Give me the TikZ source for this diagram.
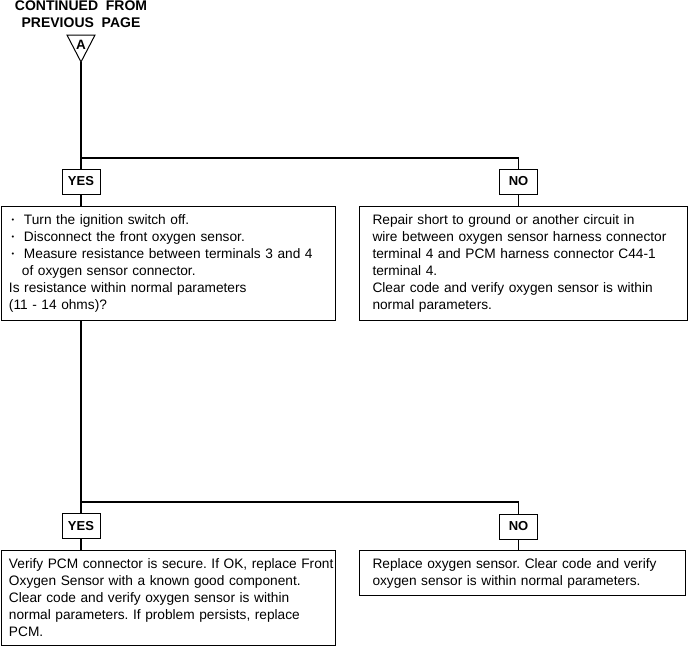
\documentclass[tikz,border=0pt]{standalone}
\usepackage{fontspec}
\setmainfont{Liberation Sans}
\frenchspacing
\newcommand{\bul}{\makebox[15pt][l]{\hspace*{2.5pt}\raisebox{0.3ex}{\scalebox{0.55}{•}}}}
\begin{document}
\begin{tikzpicture}[x=1pt,y=-1pt,
  lbl/.style={draw,line width=1pt,font=\fontsize{13}{15}\selectfont\bfseries,minimum width=38pt,minimum height=25pt,inner sep=0pt},
  box/.style={draw,line width=1pt,anchor=north west,align=left,font=\fontsize{13.7}{17}\selectfont,inner ysep=0pt},
  conn/.style={line width=1.2pt}]
\useasboundingbox (0,0) rectangle (688,646);
\node[font=\fontsize{14}{16.5}\selectfont\bfseries,align=center] (hdr) at (81,14) {CONTINUED\ \ FROM\\PREVIOUS\ \ PAGE};
\coordinate (tri) at (81,62);
\draw[line width=1pt] (67,35) -- (95,35) -- (tri) -- cycle;
\node[font=\fontsize{13.5}{15}\selectfont\bfseries] (a) at (81,44.5) {A};
\node[lbl] (yes1) at (81,181.5) {YES};
\node[lbl] (no1) at (518.5,181.5) {NO};
\node[box,inner xsep=8pt,text width=318pt,minimum height=114pt] (b1) at (0.5,206) {%
\bul Turn the ignition switch off.\\
\bul Disconnect the front oxygen sensor.\\
\bul Measure resistance between terminals 3 and 4\\
\hspace*{13pt}of oxygen sensor connector.\\
Is resistance within normal parameters\\
(11 - 14 ohms)?};
\node[box,inner xsep=13pt,text width=302pt,minimum height=114pt] (b2) at (359,206) {%
Repair short to ground or another circuit in\\
wire between oxygen sensor harness connector\\
terminal 4 and PCM harness connector C44-1\\
terminal 4.\\
Clear code and verify oxygen sensor is within\\
normal parameters.};
\node[lbl] (yes2) at (81,526) {YES};
\node[lbl] (no2) at (518.5,526.5) {NO};
\node[box,inner xsep=8pt,text width=318pt,minimum height=95pt] (b3) at (0.5,550) {%
\mbox{Verify PCM connector is secure. If OK, replace Front}\\
Oxygen Sensor with a known good component.\\
Clear code and verify oxygen sensor is within\\
normal parameters. If problem persists, replace\\
PCM.};
\node[box,inner xsep=13pt,text width=300pt,minimum height=45pt] (b4) at (359,550) {%
Replace oxygen sensor. Clear code and verify\\
oxygen sensor is within normal parameters.};
\coordinate (j1) at (81,158);
\coordinate (j2) at (81,502);
\draw[conn] (tri) -- (yes1.north);
\draw[conn] (j1) -| (no1.north);
\draw[conn] (yes1.south) -- (yes1.south |- b1.north);
\draw[conn] (no1.south) -- (no1.south |- b2.north);
\draw[conn] (yes1.south |- b1.south) -- (yes2.north);
\draw[conn] (j2) -| (no2.north);
\draw[conn] (yes2.south) -- (yes2.south |- b3.north);
\draw[conn] (no2.south) -- (no2.south |- b4.north);
\end{tikzpicture}
\end{document}
